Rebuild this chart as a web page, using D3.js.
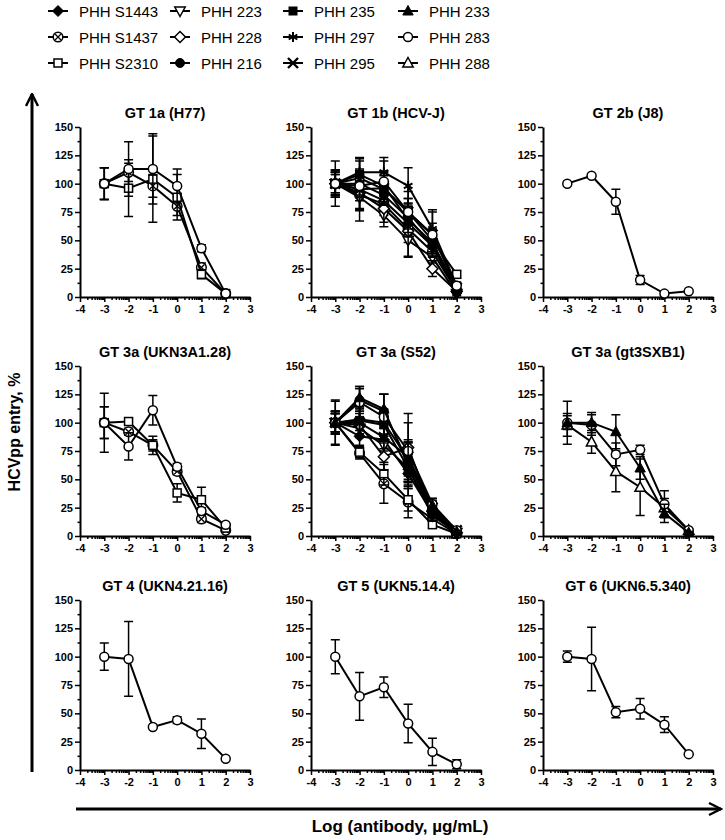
<!DOCTYPE html>
<html><head><meta charset="utf-8">
<script src="https://cdn.jsdelivr.net/npm/d3@7"></script>
<style>body{margin:0;background:#fff;} svg{display:block;font-family:"Liberation Sans",Arial,sans-serif;}</style>
</head><body><svg id="c" width="725" height="840"></svg>
<script>
// ---------- data ----------
const doses = [-3, -2, -1, 0, 1, 2];
const xTicks = [-4, -3, -2, -1, 0, 1, 2, 3];
const yTicks = [0, 25, 50, 75, 100, 125, 150];
const donors = ["PHH S1443","PHH S1437","PHH S2310","PHH 223","PHH 228","PHH 216","PHH 235","PHH 297","PHH 295","PHH 233","PHH 283","PHH 288"];
const donorSymbols = ["diamondFilled","circleCross","squareOpen","triDownOpen","diamondOpen","circleFilled","squareFilled","asterisk","xcross","triFilled","circleOpen","triOpen"];
const panelTitles = ["GT 1a (H77)","GT 1b (HCV-J)","GT 2b (J8)","GT 3a (UKN3A1.28)","GT 3a (S52)","GT 3a (gt3SXB1)","GT 4 (UKN4.21.16)","GT 5 (UKN5.14.4)","GT 6 (UKN6.5.340)"];
const yLabel = "HCVpp entry, %";
const xLabel = "Log (antibody, \u00b5g/mL)";

// GT 1a (H77)
const gt1aDonors = ["PHH S1437","PHH S2310","PHH 283"];
const gt1aMean = [[100,110,98,80,26,3],[100,96,104,88,20,3],[100,113,113,98,43,3]];
const gt1aErr  = [[14,8,10,8,4,1],[14,25,38,20,4,1],[14,24,31,15,3,1]];
// GT 1b (HCV-J)
const gt1bDonors = ["PHH S1443","PHH S1437","PHH S2310","PHH 223","PHH 228","PHH 216","PHH 235","PHH 297","PHH 295","PHH 283"];
const gt1bMean = [[100,95,85,65,45,5],[100,90,82,60,40,5],[100,105,95,75,50,20],[100,88,72,50,35,3],[100,92,78,58,25,5],[100,100,90,70,45,5],[100,108,98,68,48,8],[100,110,110,98,60,10],[100,95,96,75,55,8],[100,98,102,75,55,10]];
const gt1bErr  = [[8,10,10,10,8,2],[12,12,10,12,10,2],[10,8,12,12,10,3],[20,12,10,15,10,2],[12,15,12,22,7,2],[8,10,8,10,8,2],[10,12,12,15,12,2],[12,12,13,16,17,3],[10,28,15,12,10,2],[10,10,18,18,20,3]];
// GT 2b (J8)
const gt2bDonors = ["PHH 283"];
const gt2bMean = [[100,107,84,15,3,5]];
const gt2bErr  = [[0,0,11,4,0,0]];
// GT 3a (UKN3A1.28)
const gt3aUknDonors = ["PHH S1437","PHH S2310","PHH 283"];
const gt3aUknMean = [[100,92,80,57,15,5],[100,101,80,38,32,7],[100,79,111,61,22,10]];
const gt3aUknErr  = [[14,3,8,3,3,1],[14,3,5,8,11,2],[26,12,13,3,3,1]];
// GT 3a (S52)
const gt3aS52Donors = ["PHH S1443","PHH S1437","PHH S2310","PHH 223","PHH 228","PHH 216","PHH 235","PHH 297","PHH 295","PHH 283","PHH 233"];
const gt3aS52Mean = [[100,88,85,55,20,2],[100,73,46,30,15,2],[100,74,55,32,10,2],[100,95,80,60,18,3],[100,98,70,78,22,3],[100,120,110,65,25,3],[100,102,98,60,22,4],[100,103,100,68,20,3],[100,100,87,70,25,5],[100,118,105,75,28,5],[100,122,112,62,27,4]];
const gt3aS52Err  = [[8,8,10,10,5,1],[20,5,17,14,4,1],[8,5,10,10,3,1],[10,8,10,12,5,1],[10,10,12,30,6,1],[10,10,15,18,6,1],[8,12,10,12,5,1],[8,10,12,15,5,1],[8,10,10,15,8,1],[10,14,20,25,5,1],[19,10,13,20,6,1]];
// GT 3a (gt3SXB1)
const gt3aSxbDonors = ["PHH 288","PHH 283","PHH 233"];
const gt3aSxbMean = [[98,83,57,43,25,5],[100,98,72,76,28,5],[100,100,92,60,20,3]];
const gt3aSxbErr  = [[10,10,18,25,8,1],[6,9,10,4,12,1],[19,9,15,10,8,1]];
// GT 4, GT 5, GT 6
const gt4Donors = ["PHH 283"];
const gt4Mean = [[100,98,38,44,32,10]];
const gt4Err  = [[12,33,0,3,13,0]];
const gt5Donors = ["PHH 283"];
const gt5Mean = [[100,65,73,41,16,5]];
const gt5Err  = [[15,21,9,17,12,4]];
const gt6Donors = ["PHH 283"];
const gt6Mean = [[100,98,51,54,40,14]];
const gt6Err  = [[5,28,5,9,7,0]];

const panels = [
  {donors: gt1aDonors, mean: gt1aMean, err: gt1aErr},
  {donors: gt1bDonors, mean: gt1bMean, err: gt1bErr},
  {donors: gt2bDonors, mean: gt2bMean, err: gt2bErr},
  {donors: gt3aUknDonors, mean: gt3aUknMean, err: gt3aUknErr},
  {donors: gt3aS52Donors, mean: gt3aS52Mean, err: gt3aS52Err},
  {donors: gt3aSxbDonors, mean: gt3aSxbMean, err: gt3aSxbErr},
  {donors: gt4Donors, mean: gt4Mean, err: gt4Err},
  {donors: gt5Donors, mean: gt5Mean, err: gt5Err},
  {donors: gt6Donors, mean: gt6Mean, err: gt6Err}
];

// ---------- drawing ----------
const svg = d3.select("#c");
const symbolOf = d => donorSymbols[donors.indexOf(d)];

function drawMarker(g, type) {
  const sw = 1.5;
  const open = sel => sel.attr("fill", "#fff").attr("stroke", "#000").attr("stroke-width", sw);
  const filled = sel => sel.attr("fill", "#000").attr("stroke", "#000").attr("stroke-width", 1);
  switch (type) {
    case "circleOpen": open(g.append("circle").attr("r", 4.5)); break;
    case "circleFilled": filled(g.append("circle").attr("r", 4.5)); break;
    case "circleCross":
      open(g.append("circle").attr("r", 4.8));
      g.append("path").attr("d", "M-3,-3L3,3M-3,3L3,-3").attr("stroke", "#000").attr("stroke-width", 1.3);
      break;
    case "squareOpen": open(g.append("rect").attr("x", -4).attr("y", -4).attr("width", 8).attr("height", 8)); break;
    case "squareFilled": filled(g.append("rect").attr("x", -4).attr("y", -4).attr("width", 8).attr("height", 8)); break;
    case "diamondOpen": open(g.append("path").attr("d", "M0,-5.5L5.5,0L0,5.5L-5.5,0Z")); break;
    case "diamondFilled": filled(g.append("path").attr("d", "M0,-5.5L5.5,0L0,5.5L-5.5,0Z")); break;
    case "triOpen": open(g.append("path").attr("d", "M0,-5.5L5.2,4L-5.2,4Z")); break;
    case "triFilled": filled(g.append("path").attr("d", "M0,-5.5L5.2,4L-5.2,4Z")); break;
    case "triDownOpen": open(g.append("path").attr("d", "M0,5.5L5.2,-4L-5.2,-4Z")); break;
    case "asterisk":
      g.append("path").attr("d", "M0,-5L0,5M-4.3,-2.5L4.3,2.5M-4.3,2.5L4.3,-2.5").attr("stroke", "#000").attr("stroke-width", 2);
      break;
    case "xcross":
      g.append("path").attr("d", "M-5,-5L5,5M-5,5L5,-5").attr("stroke", "#000").attr("stroke-width", 2.4);
      break;
  }
}

// Legend
const legCols = [58, 180, 293, 408];
const legRows = [11, 37, 63];
donors.forEach((d, i) => {
  const cx = legCols[Math.floor(i / 3)], cy = legRows[i % 3];
  const g = svg.append("g");
  g.append("line").attr("x1", cx - 10).attr("x2", cx + 10).attr("y1", cy).attr("y2", cy).attr("stroke", "#000").attr("stroke-width", 2);
  drawMarker(g.append("g").attr("transform", `translate(${cx},${cy})`), donorSymbols[i]);
  g.append("text").attr("x", cx + 21).attr("y", cy + 5.5).attr("font-size", 15).attr("fill", "#000").text(d);
});

// Panels
const colX = [80, 311, 543];
const rowY = [297, 536, 770];
const pw = 170, ph = 170;
const minorX = [];
for (let dcd = -4; dcd < 3; dcd++) for (let k = 2; k <= 9; k++) minorX.push(dcd + Math.log10(k));
const minorY = [12.5, 37.5, 62.5, 87.5, 112.5, 137.5];

panels.forEach((p, i) => {
  const x0 = colX[i % 3], yb = rowY[Math.floor(i / 3)];
  const x = d3.scaleLinear().domain([-4, 3]).range([x0, x0 + pw]);
  const y = d3.scaleLinear().domain([0, 150]).range([yb, yb - ph]);
  const g = svg.append("g");

  // title
  g.append("text").attr("x", x0 + pw / 2).attr("y", yb - ph - 9).attr("text-anchor", "middle")
    .attr("font-size", 14.5).attr("font-weight", "bold").text(panelTitles[i]);

  // axes
  g.append("g").attr("transform", `translate(${x0},0)`)
    .call(d3.axisLeft(y).tickValues(yTicks).tickSize(5).tickSizeOuter(0).tickPadding(2));
  g.append("g").attr("transform", `translate(${x0},0)`)
    .call(d3.axisLeft(y).tickValues(minorY).tickSize(2.5).tickFormat("")).select(".domain").remove();
  g.append("g").attr("transform", `translate(0,${yb})`)
    .call(d3.axisBottom(x).tickValues(xTicks).tickSize(5).tickSizeOuter(0).tickPadding(3).tickFormat(d => String(d)));
  g.append("g").attr("transform", `translate(0,${yb})`)
    .call(d3.axisBottom(x).tickValues(minorX).tickSize(3).tickFormat("")).select(".domain").remove();
  g.selectAll(".domain").attr("stroke", "#000").attr("stroke-width", 2);
  g.selectAll(".tick line").attr("stroke", "#000").attr("stroke-width", 1.5);
  g.selectAll(".tick text").attr("font-size", 11).attr("font-weight", "bold").attr("fill", "#000")
    .attr("font-family", '"Liberation Sans",Arial,sans-serif');

  // series
  const line = d3.line().x((v, j) => x(doses[j])).y(v => y(v));
  p.donors.forEach((d, s) => {
    const vals = p.mean[s], errs = p.err[s];
    const sg = g.append("g");
    vals.forEach((v, j) => {
      const e = errs[j];
      if (e <= 0) return;
      const cx = x(doses[j]);
      sg.append("path")
        .attr("d", `M${cx},${y(v - e)}L${cx},${y(v + e)}M${cx - 4.5},${y(v + e)}L${cx + 4.5},${y(v + e)}M${cx - 4.5},${y(v - e)}L${cx + 4.5},${y(v - e)}`)
        .attr("stroke", "#000").attr("stroke-width", 1.5).attr("fill", "none");
    });
    sg.append("path").attr("d", line(vals)).attr("fill", "none").attr("stroke", "#000").attr("stroke-width", 2);
    vals.forEach((v, j) => drawMarker(sg.append("g").attr("transform", `translate(${x(doses[j])},${y(v)})`), symbolOf(d)));
  });
});

// Big arrows and axis labels
svg.append("defs").append("marker").attr("id", "ah").attr("viewBox", "0 0 10 10").attr("refX", 9).attr("refY", 5)
  .attr("markerWidth", 5).attr("markerHeight", 5).attr("orient", "auto")
  .append("path").attr("d", "M1,1L9,5L1,9").attr("fill", "none").attr("stroke", "#000").attr("stroke-width", 1.6);
svg.append("line").attr("x1", 32).attr("x2", 32).attr("y1", 772).attr("y2", 94)
  .attr("stroke", "#000").attr("stroke-width", 3).attr("marker-end", "url(#ah)");
svg.append("line").attr("x1", 76).attr("x2", 721).attr("y1", 809).attr("y2", 809)
  .attr("stroke", "#000").attr("stroke-width", 3).attr("marker-end", "url(#ah)");
svg.append("text").attr("transform", "translate(20,432) rotate(-90)").attr("text-anchor", "middle")
  .attr("font-size", 16).attr("font-weight", "bold").attr("fill", "#000").text(yLabel);
svg.append("text").attr("x", 400).attr("y", 832).attr("text-anchor", "middle")
  .attr("font-size", 17).attr("font-weight", "bold").attr("fill", "#000").text(xLabel);
</script></body></html>
